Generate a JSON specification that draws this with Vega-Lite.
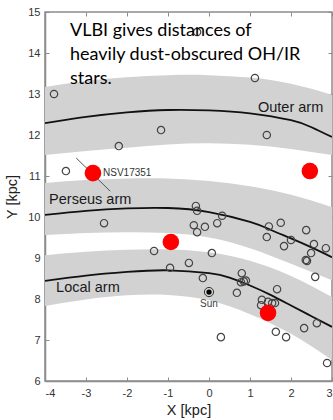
{
  "$schema": "https://vega.github.io/schema/vega-lite/v6.json",
  "width": 287,
  "height": 369,
  "autosize": "none",
  "padding": {"left": 45, "top": 12, "right": 1, "bottom": 39},
  "background": "white",
  "config": {
    "view": {"stroke": "#8c8c8c", "strokeWidth": 1.5},
    "axis": {
      "grid": false,
      "domainColor": "#8c8c8c",
      "domainWidth": 1.5,
      "tickColor": "#8c8c8c",
      "tickWidth": 1,
      "tickSize": -4,
      "labelFont": "Liberation Sans",
      "labelFontSize": 11,
      "labelColor": "#333333",
      "titleFont": "Liberation Sans",
      "titleFontSize": 14.5,
      "titleFontWeight": "normal",
      "titleColor": "#222222"
    }
  },
  "datasets": {
    "bands": [
      {"arm": "Outer", "x": -4, "top": 13.17, "bottom": 11.51},
      {"arm": "Outer", "x": -3, "top": 13.32, "bottom": 11.61},
      {"arm": "Outer", "x": -2, "top": 13.41, "bottom": 11.69},
      {"arm": "Outer", "x": -1, "top": 13.46, "bottom": 11.77},
      {"arm": "Outer", "x": 0, "top": 13.46, "bottom": 11.8},
      {"arm": "Outer", "x": 1, "top": 13.4, "bottom": 11.76},
      {"arm": "Outer", "x": 2, "top": 13.25, "bottom": 11.66},
      {"arm": "Outer", "x": 3, "top": 12.98, "bottom": 11.51},
      {"arm": "Perseus", "x": -4, "top": 10.83, "bottom": 9.56},
      {"arm": "Perseus", "x": -3, "top": 10.9, "bottom": 9.61},
      {"arm": "Perseus", "x": -2, "top": 10.94, "bottom": 9.63},
      {"arm": "Perseus", "x": -1, "top": 10.94, "bottom": 9.61},
      {"arm": "Perseus", "x": 0, "top": 10.88, "bottom": 9.5},
      {"arm": "Perseus", "x": 1, "top": 10.75, "bottom": 9.24},
      {"arm": "Perseus", "x": 2, "top": 10.54, "bottom": 8.86},
      {"arm": "Perseus", "x": 3, "top": 10.24, "bottom": 8.46},
      {"arm": "Local", "x": -4, "top": 9.07, "bottom": 7.83},
      {"arm": "Local", "x": -3, "top": 9.15, "bottom": 7.99},
      {"arm": "Local", "x": -2, "top": 9.2, "bottom": 8.09},
      {"arm": "Local", "x": -1, "top": 9.21, "bottom": 8.1},
      {"arm": "Local", "x": 0, "top": 9.14, "bottom": 7.97},
      {"arm": "Local", "x": 1, "top": 8.93, "bottom": 7.63},
      {"arm": "Local", "x": 2, "top": 8.56, "bottom": 7.15},
      {"arm": "Local", "x": 3, "top": 8.05, "bottom": 6.51}
    ],
    "lines": [
      {"arm": "Outer", "x": -4, "y": 12.29},
      {"arm": "Outer", "x": -3, "y": 12.44},
      {"arm": "Outer", "x": -2, "y": 12.55},
      {"arm": "Outer", "x": -1, "y": 12.61},
      {"arm": "Outer", "x": 0, "y": 12.6},
      {"arm": "Outer", "x": 1, "y": 12.53},
      {"arm": "Outer", "x": 2, "y": 12.36},
      {"arm": "Outer", "x": 2.5, "y": 12.19},
      {"arm": "Outer", "x": 3, "y": 11.95},
      {"arm": "Perseus", "x": -4, "y": 10.05},
      {"arm": "Perseus", "x": -3, "y": 10.15},
      {"arm": "Perseus", "x": -2, "y": 10.21},
      {"arm": "Perseus", "x": -1, "y": 10.22},
      {"arm": "Perseus", "x": 0, "y": 10.12},
      {"arm": "Perseus", "x": 1, "y": 9.88},
      {"arm": "Perseus", "x": 1.5, "y": 9.69},
      {"arm": "Perseus", "x": 2, "y": 9.48},
      {"arm": "Perseus", "x": 2.5, "y": 9.26},
      {"arm": "Perseus", "x": 3, "y": 9.02},
      {"arm": "Local", "x": -4, "y": 8.44},
      {"arm": "Local", "x": -3, "y": 8.57},
      {"arm": "Local", "x": -2, "y": 8.66},
      {"arm": "Local", "x": -1, "y": 8.7},
      {"arm": "Local", "x": 0, "y": 8.63},
      {"arm": "Local", "x": 0.5, "y": 8.52},
      {"arm": "Local", "x": 1, "y": 8.33},
      {"arm": "Local", "x": 1.5, "y": 8.1},
      {"arm": "Local", "x": 2, "y": 7.84},
      {"arm": "Local", "x": 2.5, "y": 7.58},
      {"arm": "Local", "x": 3, "y": 7.32}
    ],
    "stars": [
      {"x": -3.78, "y": 13.0}, {"x": -1.17, "y": 12.12}, {"x": -2.2, "y": 11.73},
      {"x": -3.49, "y": 11.12}, {"x": -0.29, "y": 14.51}, {"x": 1.12, "y": 13.39},
      {"x": 1.41, "y": 12.0}, {"x": -0.32, "y": 10.27}, {"x": -0.29, "y": 10.15},
      {"x": -2.56, "y": 9.85}, {"x": -0.37, "y": 9.8}, {"x": -0.1, "y": 9.76},
      {"x": -0.29, "y": 9.63}, {"x": 0.2, "y": 9.85}, {"x": -1.34, "y": 9.17},
      {"x": 0.07, "y": 9.12}, {"x": -0.49, "y": 8.88}, {"x": -0.95, "y": 8.76},
      {"x": -0.15, "y": 8.51}, {"x": 0.32, "y": 10.03}, {"x": 1.46, "y": 9.77},
      {"x": 1.75, "y": 9.86}, {"x": 1.41, "y": 9.51}, {"x": 2.0, "y": 9.44},
      {"x": 1.83, "y": 9.29}, {"x": 2.37, "y": 9.68}, {"x": 2.56, "y": 9.34},
      {"x": 2.49, "y": 9.12}, {"x": 2.36, "y": 8.95}, {"x": 2.39, "y": 8.93},
      {"x": 2.85, "y": 9.24}, {"x": 2.59, "y": 8.54}, {"x": 0.8, "y": 8.63},
      {"x": 0.78, "y": 8.41}, {"x": 0.85, "y": 8.43}, {"x": 0.9, "y": 8.45},
      {"x": 0.68, "y": 8.15}, {"x": 1.66, "y": 8.24}, {"x": 1.29, "y": 7.98},
      {"x": 1.44, "y": 7.93}, {"x": 1.54, "y": 7.9}, {"x": 1.61, "y": 7.9},
      {"x": 1.27, "y": 7.85}, {"x": 2.32, "y": 7.29}, {"x": 2.63, "y": 7.41},
      {"x": 1.63, "y": 7.2}, {"x": 1.88, "y": 7.07}, {"x": 0.29, "y": 7.07},
      {"x": 2.88, "y": 6.44}
    ],
    "vlbi": [
      {"name": "NSV17351", "x": -2.83, "y": 11.07},
      {"name": "b", "x": 2.46, "y": 11.12},
      {"name": "c", "x": -0.93, "y": 9.39},
      {"name": "d", "x": 1.44, "y": 7.66}
    ],
    "pointer": [{"x": -3.24, "y": 11.44, "x2": -2.41, "y2": 10.63}],
    "sun": [{"x": 0.0, "y": 8.17}],
    "armLabels": [
      {"text": "Outer arm", "x": 1.195, "y": 12.56},
      {"text": "Perseus arm", "x": -3.9, "y": 10.32},
      {"text": "Local arm", "x": -3.73, "y": 8.17}
    ],
    "smallLabels": [
      {"text": "NSV17351", "x": -2.585, "y": 11.0, "anchor": "left"},
      {"text": "Sun", "x": 0.0, "y": 7.8, "anchor": "center"}
    ],
    "note": [{"text": "VLBI gives distances of\nheavily dust-obscured OH/IR\nstars.", "x": -3.39, "y": 14.415}]
  },
  "resolve": {"axis": {"x": "independent", "y": "independent"}},
  "layer": [
    {
      "data": {"name": "bands"},
      "mark": {"type": "area", "color": "#d2d2d2", "interpolate": "natural", "clip": true},
      "encoding": {
        "x": {"field": "x", "type": "quantitative", "scale": {"domain": [-4, 3], "nice": false, "zero": false},
          "axis": {"orient": "bottom", "title": "X [kpc]", "values": [-4, -3, -2, -1, 0, 1, 2, 3], "labelExpr": "'' + datum.value", "labelPadding": 10, "titlePadding": 5}},
        "y": {"field": "top", "type": "quantitative", "scale": {"domain": [6, 15], "nice": false, "zero": false},
          "axis": {"orient": "left", "title": "Y [kpc]", "values": [6, 7, 8, 9, 10, 11, 12, 13, 14, 15], "labelPadding": 9, "titlePadding": 8}},
        "y2": {"field": "bottom"},
        "detail": {"field": "arm"}
      }
    },
    {
      "data": {"name": "lines"},
      "mark": {"type": "line", "color": "#111111", "strokeWidth": 1.8, "interpolate": "natural", "clip": true},
      "encoding": {
        "x": {"field": "x", "type": "quantitative", "axis": {"orient": "top", "labels": false, "title": null, "domain": false, "values": [-4, -3, -2, -1, 0, 1, 2, 3]}},
        "y": {"field": "y", "type": "quantitative", "axis": {"orient": "right", "labels": false, "title": null, "domain": false, "values": [6, 7, 8, 9, 10, 11, 12, 13, 14, 15]}},
        "detail": {"field": "arm"}
      }
    },
    {
      "data": {"name": "stars"},
      "mark": {"type": "point", "shape": "circle", "filled": false, "stroke": "#444444", "strokeWidth": 1.2, "size": 54, "opacity": 1},
      "encoding": {
        "x": {"field": "x", "type": "quantitative", "axis": null},
        "y": {"field": "y", "type": "quantitative", "axis": null}
      }
    },
    {
      "data": {"name": "pointer"},
      "mark": {"type": "rule", "color": "#555555", "strokeWidth": 1},
      "encoding": {
        "x": {"field": "x", "type": "quantitative", "axis": null},
        "y": {"field": "y", "type": "quantitative", "axis": null},
        "x2": {"field": "x2"},
        "y2": {"field": "y2"}
      }
    },
    {
      "data": {"name": "vlbi"},
      "mark": {"type": "point", "shape": "circle", "filled": true, "color": "#ff0000", "size": 275, "opacity": 1},
      "encoding": {
        "x": {"field": "x", "type": "quantitative", "axis": null},
        "y": {"field": "y", "type": "quantitative", "axis": null}
      }
    },
    {
      "data": {"name": "sun"},
      "mark": {"type": "point", "shape": "circle", "filled": false, "stroke": "#333333", "strokeWidth": 1, "size": 85, "opacity": 1},
      "encoding": {
        "x": {"field": "x", "type": "quantitative", "axis": null},
        "y": {"field": "y", "type": "quantitative", "axis": null}
      }
    },
    {
      "data": {"name": "sun"},
      "mark": {"type": "point", "shape": "circle", "filled": true, "color": "#000000", "size": 28, "opacity": 1},
      "encoding": {
        "x": {"field": "x", "type": "quantitative", "axis": null},
        "y": {"field": "y", "type": "quantitative", "axis": null}
      }
    },
    {
      "data": {"name": "armLabels"},
      "mark": {"type": "text", "font": "Liberation Sans", "fontSize": 14.5, "color": "#1a1a1a", "align": "left", "baseline": "alphabetic"},
      "encoding": {
        "x": {"field": "x", "type": "quantitative", "axis": null},
        "y": {"field": "y", "type": "quantitative", "axis": null},
        "text": {"field": "text"}
      }
    },
    {
      "data": {"name": "smallLabels"},
      "transform": [{"filter": "datum.anchor == 'left'"}],
      "mark": {"type": "text", "font": "Liberation Sans", "fontSize": 10, "color": "#333333", "align": "left", "baseline": "alphabetic"},
      "encoding": {
        "x": {"field": "x", "type": "quantitative", "axis": null},
        "y": {"field": "y", "type": "quantitative", "axis": null},
        "text": {"field": "text"}
      }
    },
    {
      "data": {"name": "smallLabels"},
      "transform": [{"filter": "datum.anchor == 'center'"}],
      "mark": {"type": "text", "font": "Liberation Sans", "fontSize": 10, "color": "#444444", "align": "center", "baseline": "alphabetic"},
      "encoding": {
        "x": {"field": "x", "type": "quantitative", "axis": null},
        "y": {"field": "y", "type": "quantitative", "axis": null},
        "text": {"field": "text"}
      }
    },
    {
      "data": {"name": "note"},
      "mark": {"type": "text", "font": "Lato", "fontSize": 18, "color": "#000000", "align": "left", "baseline": "alphabetic", "lineBreak": "\n", "lineHeight": 24},
      "encoding": {
        "x": {"field": "x", "type": "quantitative", "axis": null},
        "y": {"field": "y", "type": "quantitative", "axis": null},
        "text": {"field": "text"}
      }
    }
  ]
}
